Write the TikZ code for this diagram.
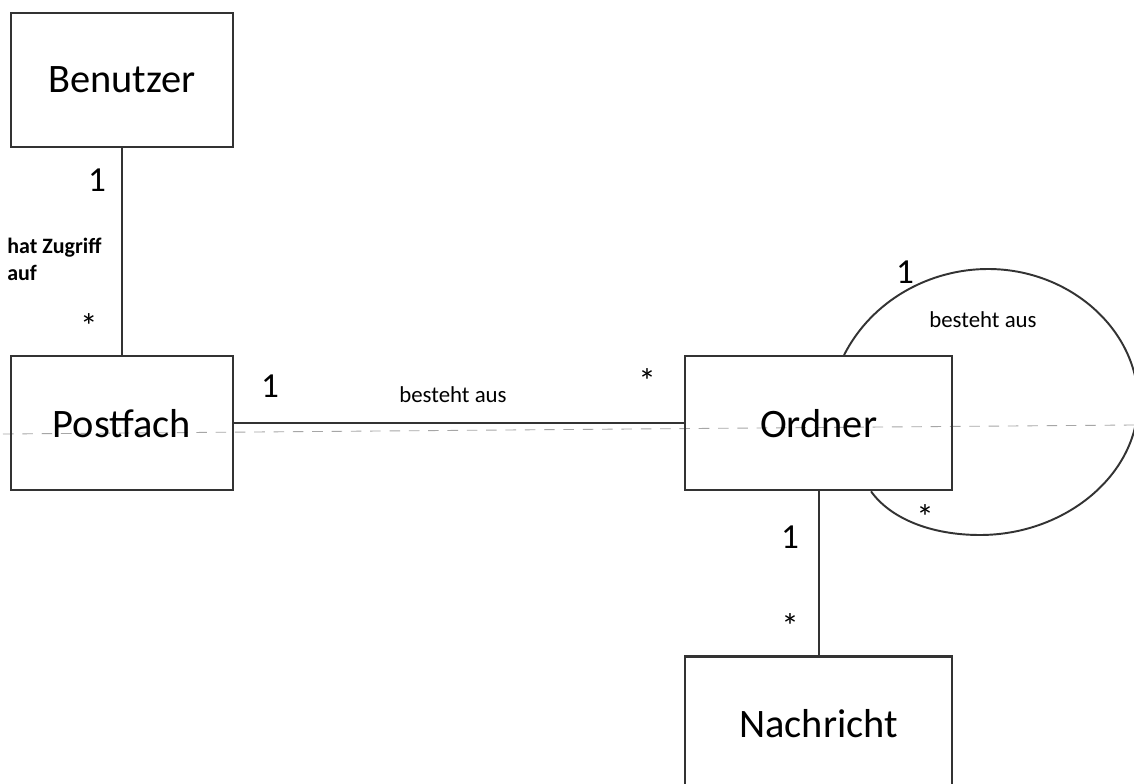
\documentclass[tikz,border=0pt]{standalone}
\usepackage{fontspec}
\setmainfont{Carlito}
\usepackage{tikz}
\usetikzlibrary{positioning,%
                calc}

\begin{document}
\begin{tikzpicture}[x=0.02cm,y=-0.02cm]
  \tikzset{entity/.style = {draw=black!80,line width=1.3pt,minimum width=4.44cm,
                            minimum height=2.68cm,inner sep=0pt,
                            font=\fontsize{23}{27}\selectfont}}
  \tikzset{wide/.style = {minimum width=5.34cm}}
  \tikzset{link/.style = {draw=black!80,line width=1.1pt}}
  \tikzset{mult/.style = {inner sep=0pt,font=\fontsize{20}{23}\selectfont}}
  \tikzset{rolename/.style = {inner sep=0pt,font=\fontsize{13}{15}\selectfont}}
  \tikzset{scanline/.style = {draw=black!35,line width=0.5pt,dash pattern=on 6pt off 5pt}}
  \clip (0,0) rectangle (1134,784);
  \fill[white] (0,0) rectangle (1134,784);

  %\draw[help lines] (0,0) grid (1134,784);
  \draw[scanline] (3,434) -- (1134,425);

  \node[entity] (benutzer) at (122,80) {Benutzer};
  \node[entity] (postfach) [below=4.14cm of benutzer] {Postfach};
  \node[entity,wide] (ordner) [right=9.0cm of postfach] {Ordner};
  \node[entity,wide] (nachricht) [below=3.28cm of ordner] {Nachricht};

  \draw[link] (benutzer) -- (postfach);
  \draw[link] (postfach) -- (ordner);
  \draw[link] (ordner) -- (nachricht);

  % Ordner besteht aus Ordner
  \coordinate (loopA) at ($(ordner.north west)+(160,0)$);
  \coordinate (loopB) at ($(ordner.south west)+(187,0)$);
  \draw[link] (loopA) .. controls (872,300) and (930,269) .. (988,269)
              .. controls (1070,269) and (1138,330) .. (1138,402)
              .. controls (1138,475) and (1065,535) .. (980,535)
              .. controls (930,535) and (890,518) .. (loopB);

  \node[mult] (bp1) at (97,180) {1};
  \node[mult] (bpn) at (89,326) {*};
  \node[rolename,font=\fontsize{12.5}{15}\selectfont\bfseries,align=left,anchor=north west]
       (zugriff) at (7,238) {hat Zugriff\\auf};

  \node[mult] (po1) at (270,386) {1};
  \node[rolename] (poname) at (453,395) {besteht aus};
  \node[mult] (pon) at (647,381) {*};

  \node[mult] (oo1) at (905,272) {1};
  \node[rolename] (ooname) at (983,320) {besteht aus};
  \node[mult] (oon) at (925,517) {*};

  \node[mult] (on1) at (790,537) {1};
  \node[mult] (onn) at (790,626) {*};
\end{tikzpicture}
\end{document}
